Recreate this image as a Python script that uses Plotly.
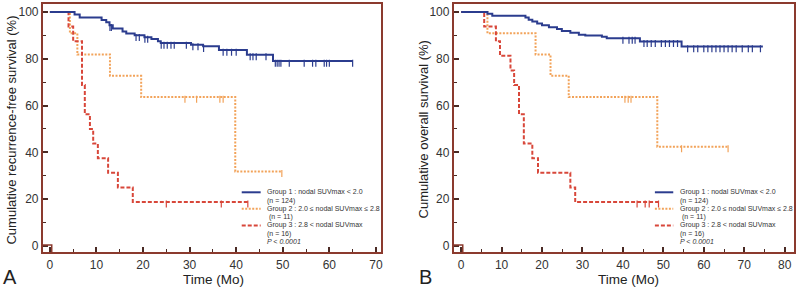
import numpy as np
import plotly.graph_objects as go

# ---------------- Panel A: recurrence-free survival ----------------
rfs_g1_t = [0, 5.3, 6.4, 11.1, 12.1, 12.8, 13.5, 15.6, 16.4, 18.2, 20.3, 21.8, 23.2, 23.8, 30.3, 32.9, 36.3, 42.3, 47.9, 65.0]
rfs_g1_s = [100, 98.9, 97.6, 96.6, 95.6, 94.3, 92.9, 91.6, 90.8, 90.0, 89.2, 88.4, 87.5, 86.7, 86.0, 85.3, 83.7, 81.7, 79.0, 79.0]
rfs_g1_c = [12.9, 13.2, 18.5, 19.2, 20.4, 21.0, 23.9, 24.5, 25.2, 26.0, 26.7, 29.3, 30.7, 31.8, 33.0,
            37.2, 38.0, 39.0, 40.0, 43.0, 43.6, 44.3, 46.4, 48.4, 48.8, 49.2, 49.6, 51.4, 54.6,
            56.4, 57.1, 58.9, 59.4, 60.0, 65.0]

rfs_g2_t = [0, 4.3, 5.9, 12.9, 19.6, 39.8, 49.8]
rfs_g2_s = [100, 90.9, 81.8, 72.7, 63.6, 31.8, 31.8]
rfs_g2_c = [29.0, 31.5, 36.5, 37.2, 49.8]

rfs_g3_t = [0, 4.0, 5.0, 6.9, 7.5, 8.6, 9.3, 10.3, 12.5, 14.6, 17.8, 42.5]
rfs_g3_s = [100, 93.75, 87.5, 68.75, 56.25, 50.0, 43.75, 37.5, 31.25, 25.0, 18.75, 18.75]
rfs_g3_c = [25.0, 36.8, 42.5]

# ---------------- Panel B: overall survival ----------------
os_g1_t = [0, 6.5, 7.7, 15.9, 16.7, 17.6, 18.8, 20.0, 21.7, 23.7, 24.9, 27.0, 29.1, 30.7, 34.8, 36.0, 44.2, 54.5, 74.6]
os_g1_s = [100, 99.2, 98.4, 97.6, 96.7, 95.9, 95.1, 94.3, 93.5, 92.7, 91.9, 91.1, 90.3, 89.9, 89.4, 88.8, 87.4, 85.2, 85.2]
os_g1_c = [40.0, 41.5, 42.3, 43.0, 45.2, 46.0, 47.0, 48.0, 49.5, 50.5, 51.5, 52.5, 53.5,
           56.0, 57.5, 58.5, 60.0, 61.0, 62.0, 63.0, 64.0, 65.0, 66.0, 67.0, 68.0, 69.5, 71.0, 72.0, 74.0]

os_g2_t = [0, 6.5, 18.4, 22.1, 26.6, 48.5, 66.0]
os_g2_s = [100, 90.9, 81.8, 72.7, 63.6, 42.4, 42.4]
os_g2_c = [40.5, 41.3, 42.0, 54.5, 66.0]

os_g3_t = [0, 5.7, 8.6, 9.6, 12.2, 13.1, 14.3, 15.5, 17.6, 19.0, 27.0, 28.2, 48.8]
os_g3_s = [100, 93.75, 87.5, 81.25, 75.0, 68.75, 56.25, 43.75, 37.5, 31.25, 25.0, 18.75, 18.75]
os_g3_c = [43.5, 45.5, 46.5, 48.8]

legend_labels = ["Group 1 : nodal SUVmax < 2.0", "(n = 124)",
                 "Group 2 : 2.0 \u2264 nodal SUVmax \u2264 2.8", " (n = 11)",
                 "Group 3 : 2.8 < nodal SUVmax", "(n = 16)", "<i>P < 0.0001</i>"]

x_ticks_a = list(range(0, 71, 10))
x_ticks_b = list(range(0, 81, 10))
y_ticks = list(range(0, 101, 20))

BLUE = "#2b3c8e"
ORANGE = "#f2a35a"
RED = "#d8473a"
FRAME = "#8b3a2e"
TICKC = "#4a2a24"
FONT = "Liberation Sans, Arial, sans-serif"
RED_DASH = "4px,2px"
ORANGE_DASH = "2px,1.5px"

def step_val(ts, ss, t):
    idx = np.searchsorted(np.asarray(ts), np.asarray(t), side="right") - 1
    return np.asarray(ss)[idx]

fig = go.Figure()

panels = [
    ("x", "y", [(rfs_g2_t, rfs_g2_s, rfs_g2_c, ORANGE, ORANGE_DASH),
                (rfs_g3_t, rfs_g3_s, rfs_g3_c, RED, RED_DASH),
                (rfs_g1_t, rfs_g1_s, rfs_g1_c, BLUE, "solid")]),
    ("x2", "y2", [(os_g2_t, os_g2_s, os_g2_c, ORANGE, ORANGE_DASH),
                  (os_g3_t, os_g3_s, os_g3_c, RED, RED_DASH),
                  (os_g1_t, os_g1_s, os_g1_c, BLUE, "solid")]),
]

for xa, ya, groups in panels:
    for ts, ss, cs, col, dash in groups:
        fig.add_trace(go.Scatter(x=ts, y=ss, mode="lines", line_shape="hv",
                                 line=dict(color=col, width=2, dash=dash),
                                 xaxis=xa, yaxis=ya, showlegend=False, hoverinfo="skip"))
        cy = step_val(ts, ss, cs) - 0.9
        fig.add_trace(go.Scatter(x=cs, y=cy, mode="markers",
                                 marker=dict(symbol="line-ns", size=5,
                                             line=dict(color=col, width=1.2)),
                                 xaxis=xa, yaxis=ya, showlegend=False, hoverinfo="skip"))

def xaxis_cfg(domain, rng, ticks):
    return dict(domain=domain, range=rng, tickvals=ticks, ticks="inside", ticklen=5,
                tickwidth=1.5, tickcolor=TICKC,
                minor=dict(ticks="inside", ticklen=3, dtick=5, tick0=0, tickcolor=TICKC, tickwidth=1.2),
                showline=True, mirror=True, linecolor=FRAME, linewidth=2,
                showgrid=False, zeroline=False,
                tickfont=dict(family=FONT, size=12, color="#333"))

def yaxis_cfg(anchor):
    return dict(domain=[0.1266, 0.9862], range=[-2.8, 103.4], tickvals=y_ticks, ticks="inside",
                ticklen=5, tickwidth=1.5, tickcolor=TICKC,
                minor=dict(ticks="inside", ticklen=3, dtick=10, tick0=0, tickcolor=TICKC, tickwidth=1.2),
                showline=True, mirror=True, linecolor=FRAME, linewidth=2,
                showgrid=False, zeroline=False, anchor=anchor,
                tickfont=dict(family=FONT, size=12, color="#333"))

fig.update_layout(
    width=800, height=290, margin=dict(l=0, r=0, t=0, b=0),
    paper_bgcolor="white", plot_bgcolor="white",
    xaxis=dict(xaxis_cfg([43 / 800, 382 / 800], [-1.5, 71.1], x_ticks_a), anchor="y"),
    yaxis=yaxis_cfg("x"),
    xaxis2=dict(xaxis_cfg([455 / 800, 796 / 800], [-1.8, 82.3], x_ticks_b), anchor="y2"),
    yaxis2=yaxis_cfg("x2"),
)

shapes = []
annotations = []
for xr, yr, xs0, xs1, xt in [("x domain", "y domain", 0.588, 0.644, 0.658),
                             ("x2 domain", "y2 domain", 0.591, 0.645, 0.658)]:
    row_y = [0.242 - i * 0.0333 for i in range(len(legend_labels))]
    for (col, dash), ri in zip([(BLUE, "solid"), (ORANGE, ORANGE_DASH), (RED, RED_DASH)], [0, 2, 4]):
        shapes.append(dict(type="line", xref=xr, yref=yr, x0=xs0, x1=xs1,
                           y0=row_y[ri], y1=row_y[ri], line=dict(color=col, width=2, dash=dash)))
    for lab, yy in zip(legend_labels, row_y):
        annotations.append(dict(text=lab, xref=xr, yref=yr, x=xt, y=yy, xanchor="left",
                                yanchor="middle", showarrow=False,
                                font=dict(family=FONT, size=7, color="#333")))

# small corner mark at the origin
for xa, ya, xmin in [("x", "y", -1.5), ("x2", "y2", -1.8)]:
    shapes.append(dict(type="path", xref=xa, yref=ya,
                       path=f"M {xmin},0.4 L 0.4,0.4 L 0.4,-2.8",
                       line=dict(color=FRAME, width=1.5)))

# axis titles and panel letters
def ann(text, x, y, size, angle=0):
    return dict(text=text, xref="paper", yref="paper", x=x / 800, y=1 - y / 290,
                xanchor="center", yanchor="middle", textangle=angle, showarrow=False,
                font=dict(family=FONT, size=size, color="#222"))

annotations += [
    ann("Time (Mo)", 214, 280, 13.5),
    ann("Time (Mo)", 630, 280, 13.5),
    ann("Cumulative recurrence-free survival (%)", 12, 130, 13, -90),
    ann("Cumulative overall survival (%)", 425, 130, 13, -90),
    ann("A", 10, 278, 20),
    ann("B", 427, 278, 20),
]

fig.update_layout(shapes=shapes, annotations=annotations)
fig.write_html("out.html", config={"displayModeBar": False},
               post_script="document.body.style.margin='0';document.body.style.overflow='hidden';")
